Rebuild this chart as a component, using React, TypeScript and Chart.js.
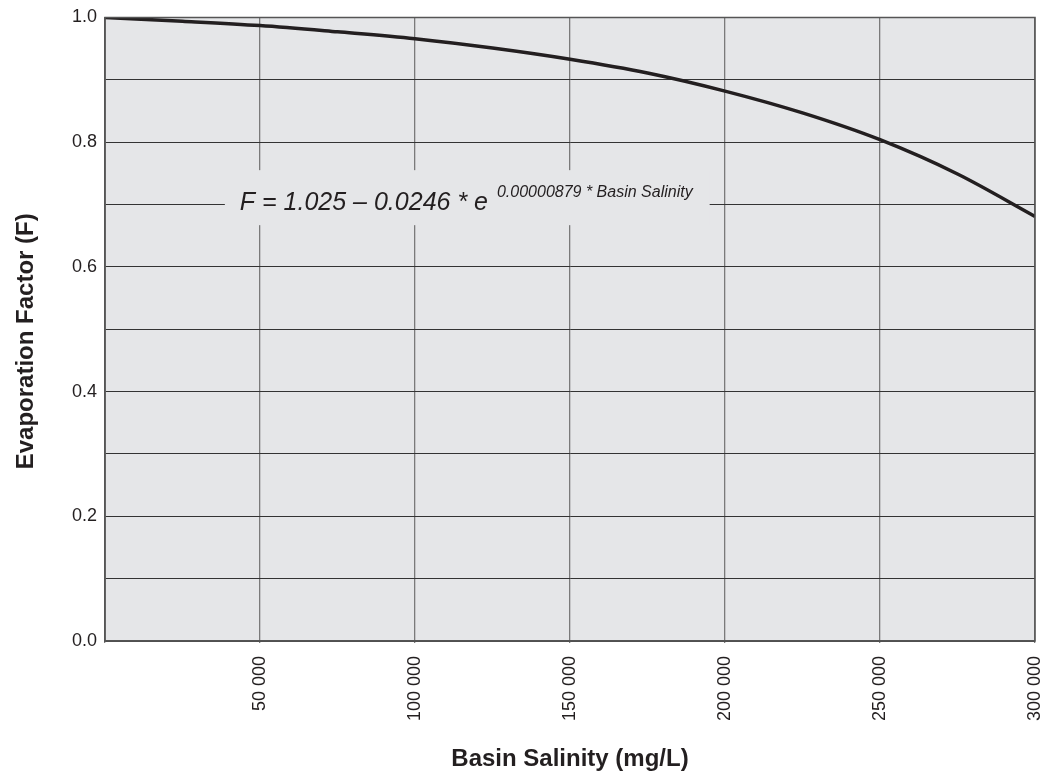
import React, { useEffect, useRef } from "react";
import { Chart, registerables } from "chart.js";

Chart.register(...registerables);

// Basin salinity (mg/L) sample positions and evaporation factor values
const salinity = [0, 25000, 50000, 75000, 100000, 125000, 150000, 175000, 200000, 225000, 250000, 275000, 300000];
const factor = [1.0, 0.994, 0.987, 0.977, 0.966, 0.951, 0.933, 0.911, 0.882, 0.847, 0.804, 0.749, 0.681];

const xTickValues = [50000, 100000, 150000, 200000, 250000, 300000];
const yTickLabels = ["0.0", "0.2", "0.4", "0.6", "0.8", "1.0"];

const X_TITLE = "Basin Salinity (mg/L)";
const Y_TITLE = "Evaporation Factor (F)";
const EQ_MAIN = "F = 1.025 \u2013 0.0246 * e";
const EQ_SUP = "0.00000879 * Basin Salinity";
const EQ_X = 43500;
const EQ_Y = 0.691;

const FONT = '"Liberation Sans", Arial, Helvetica, sans-serif';
const BG = "#e5e6e8";
const INK = "#231f20";

const fmt = (v: number) => {
  const s = String(Math.round(v));
  return s.replace(/\B(?=(\d{3})+(?!\d))/g, " ");
};

const bgPlugin = {
  id: "bgPlugin",
  beforeDraw(chart: any) {
    const { ctx, chartArea: a } = chart;
    ctx.save();
    ctx.fillStyle = BG;
    ctx.fillRect(a.left, a.top, a.right - a.left, a.bottom - a.top);
    ctx.restore();
  },
  beforeDatasetsDraw(chart: any) {
    const { ctx, scales } = chart;
    const x = scales.x, y = scales.y;
    const tx = x.getPixelForValue(EQ_X);
    const ty = y.getPixelForValue(EQ_Y);
    ctx.save();
    ctx.font = `italic 25px ${FONT}`;
    const mainW = ctx.measureText(EQ_MAIN).width;
    ctx.font = `italic 16px ${FONT}`;
    const supW = ctx.measureText(EQ_SUP).width;
    const gap = 9;
    const left = tx - 15;
    const right = tx + mainW + gap + supW + 17;
    ctx.fillStyle = BG;
    ctx.fillRect(left, ty - 40, right - left, 55);
    ctx.fillStyle = INK;
    ctx.textBaseline = "alphabetic";
    ctx.textAlign = "left";
    ctx.font = `italic 25px ${FONT}`;
    ctx.fillText(EQ_MAIN, tx, ty);
    ctx.font = `italic 16px ${FONT}`;
    ctx.fillText(EQ_SUP, tx + mainW + gap, ty - 13);
    ctx.restore();
  },
  afterDraw(chart: any) {
    const { ctx, chartArea: a } = chart;
    ctx.save();
    ctx.strokeStyle = "#555";
    ctx.lineWidth = 1.5;
    ctx.strokeRect(a.left, a.top, a.right - a.left, a.bottom - a.top);
    // y-axis title
    ctx.translate(26, (a.top + a.bottom) / 2 + 12);
    ctx.rotate(-Math.PI / 2);
    ctx.font = `bold 24px ${FONT}`;
    ctx.fillStyle = INK;
    ctx.textAlign = "center";
    ctx.textBaseline = "middle";
    ctx.fillText(Y_TITLE, 0, 0);
    ctx.restore();
  },
};

export default function App() {
  const ref = useRef<HTMLCanvasElement | null>(null);
  useEffect(() => {
    if (!ref.current) return;
    Chart.defaults.font.family = FONT;
    const chart = new Chart(ref.current, {
      type: "line",
      data: {
        datasets: [
          {
            data: salinity.map((s, i) => ({ x: s, y: factor[i] })),
            borderColor: INK,
            borderWidth: 3.5,
            pointRadius: 0,
            cubicInterpolationMode: "monotone",
            fill: false,
          },
        ],
      },
      options: {
        animation: false,
        responsive: false,
        layout: { padding: { top: 17.5, right: 23, left: 0, bottom: 0 } },
        plugins: { legend: { display: false }, tooltip: { enabled: false } },
        scales: {
          x: {
            type: "linear",
            min: 0,
            max: 300000,
            afterFit: (s: any) => {
              s.height = 133;
              s.paddingRight = 0;
              s.paddingLeft = 0;
            },
            afterBuildTicks: (s: any) => {
              s.ticks = [{ value: 0 }, ...xTickValues.map((v) => ({ value: v }))];
            },
            ticks: {
              autoSkip: false,
              minRotation: 90,
              maxRotation: 90,
              padding: 13,
              color: INK,
              font: { size: 18 },
              callback: (v: any) => (v === 0 ? "" : fmt(Number(v))),
            },
            grid: { color: "#7a7a7a", lineWidth: 1.3, tickLength: 2, drawTicks: true },
            border: { display: true, color: "#555", width: 1.5 },
            title: {
              display: true,
              text: X_TITLE,
              color: INK,
              font: { size: 24, weight: "bold" },
              padding: { top: 0, bottom: 0 },
            },
          },
          y: {
            type: "linear",
            min: 0,
            max: 1,
            afterFit: (s: any) => {
              s.width = 105;
              s.paddingTop = 0;
              s.paddingBottom = 0;
            },
            ticks: {
              stepSize: 0.1,
              autoSkip: false,
              padding: 8,
              color: INK,
              font: { size: 18 },
              callback: (v: any) => {
                const k = Math.round(Number(v) * 10);
                return k % 2 === 0 ? yTickLabels[k / 2] : "";
              },
            },
            grid: { color: "#333", lineWidth: 1, drawTicks: false },
            border: { display: true, color: "#555", width: 1.5 },
          },
        },
      },
      plugins: [bgPlugin],
    } as any);
    return () => chart.destroy();
  }, []);
  return (
    <canvas
      ref={ref}
      width={1058}
      height={774}
      style={{ position: "absolute", left: 0, top: 0, display: "block" }}
    />
  );
}
